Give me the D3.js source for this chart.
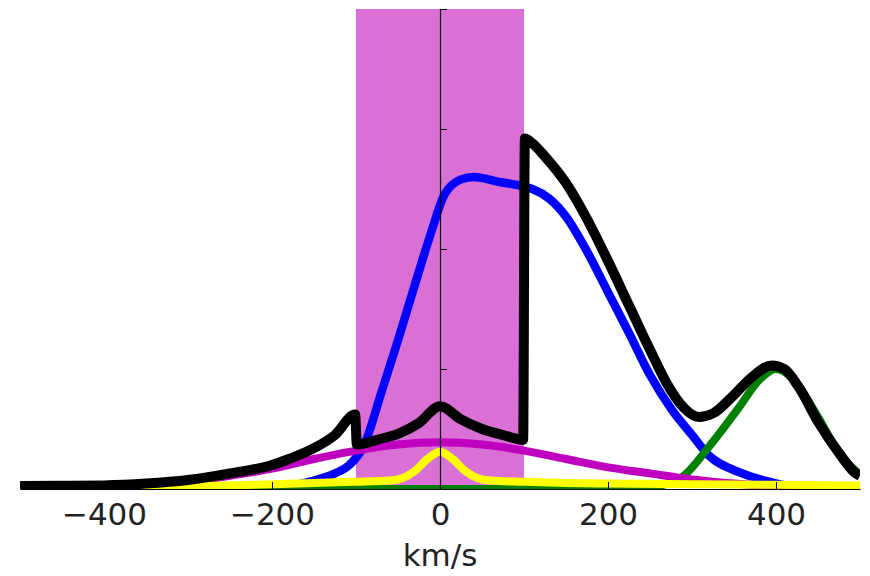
<!DOCTYPE html>
<html>
<head>
<meta charset="utf-8">
<script src="https://cdn.jsdelivr.net/npm/d3@7"></script>
<style>
  body { margin: 0; background: #fff; }
  text { font-family: "DejaVu Sans", sans-serif; }
</style>
</head>
<body>
<div class="container"></div>
<script>
// chart size and plot box
const width = 870;
const height = 576;
const margin = { top: 9, bottom: 87, left: 20, right: 10 };

// velocity window shaded in the plot
const windowRange = [-100, 100];
const xTicks = [-400, -200, 0, 200, 400];
const yTicks = [0, 1, 2, 3, 4];

// total profile (black)
const blackV = [-500, -450, -400, -350, -300, -250, -200, -180, -150, -125, -101,
  -99, -75, -50, -25, 0, 25, 50, 75, 99,
  101, 110, 125, 150, 175, 200, 225, 250, 270, 290, 308, 325, 348, 371, 395, 410, 427, 451, 475, 495, 500];
const blackY = [0.025, 0.027, 0.03, 0.045, 0.075, 0.13, 0.2, 0.25, 0.34, 0.45, 0.62,
  0.37, 0.41, 0.46, 0.55, 0.69, 0.58, 0.5, 0.45, 0.41,
  2.92, 2.88, 2.77, 2.55, 2.25, 1.9, 1.53, 1.16, 0.88, 0.68, 0.6, 0.63, 0.77, 0.93, 1.03, 1.0, 0.85, 0.55, 0.3, 0.13, 0.11];

// broad component (blue)
const blueV = [-500, -300, -250, -200, -175, -150, -125, -108, -90, -70, -50, -30, -10, 5, 25, 40, 70, 100,
  110, 130, 150, 175, 200, 225, 250, 276, 300, 320, 356, 388, 415, 451, 500];
const blueY = [0, 0, 0.002, 0.01, 0.03, 0.07, 0.13, 0.2, 0.37, 0.8, 1.24, 1.7, 2.15, 2.45, 2.58, 2.6, 2.56, 2.52,
  2.5, 2.42, 2.27, 1.98, 1.64, 1.3, 0.95, 0.66, 0.45, 0.28, 0.14, 0.067, 0.025, 0.008, 0.002];

// red-shifted component (green)
const greenV = [-500, 200, 250, 288, 320, 356, 380, 400, 420, 450, 475, 500];
const greenY = [0, 0, 0.015, 0.1, 0.35, 0.68, 0.91, 1.0, 0.92, 0.6, 0.3, 0.12];

// wide component (magenta)
const magentaV = [-500, -450, -400, -350, -300, -250, -200, -150, -100, -50, 0, 50, 100, 150, 200, 250, 300, 350, 400, 450, 500];
const magentaY = [0.003, 0.006, 0.015, 0.03, 0.06, 0.11, 0.17, 0.25, 0.32, 0.37, 0.39, 0.37, 0.32, 0.25, 0.18, 0.13, 0.08, 0.045, 0.022, 0.01, 0.004];

// narrow component (yellow)
const yellowV = [-500, -400, -300, -200, -150, -100, -60, -45, -30, -15, 0, 15, 30, 45, 60, 100, 150, 200, 300, 400, 500];
const yellowY = [0, 0.005, 0.02, 0.04, 0.05, 0.06, 0.07, 0.09, 0.15, 0.25, 0.31, 0.25, 0.15, 0.09, 0.07, 0.06, 0.05, 0.045, 0.04, 0.035, 0.03];

const svg = d3.select(".container")
  .append("svg")
  .attr("width", width)
  .attr("height", height);

const xScale = d3.scaleLinear()
  .domain([-500, 500])
  .range([margin.left, width - margin.right]);

const yScale = d3.scaleLinear()
  .domain([0, 4])
  .range([height - margin.bottom, margin.top]);

// lines are clipped to the plot box
svg.append("clipPath")
  .attr("id", "plot-clip")
  .append("rect")
  .attr("x", xScale(-500))
  .attr("y", yScale(4))
  .attr("width", xScale(500) - xScale(-500))
  .attr("height", yScale(0) - yScale(4));

// shaded window
svg.append("rect")
  .attr("x", xScale(windowRange[0]))
  .attr("y", yScale(4))
  .attr("width", xScale(windowRange[1]) - xScale(windowRange[0]))
  .attr("height", yScale(0) - yScale(4))
  .attr("fill", "#da70d6");

const line = d3.line()
  .x(d => xScale(d[0]))
  .y(d => yScale(d[1]))
  .curve(d3.curveMonotoneX);

// draw order matches the picture: blue, green, magenta, yellow, black on top
const series = [
  { v: blueV, y: blueY, color: "#0000ff", w: 8.5 },
  { v: greenV, y: greenY, color: "#008000", w: 8 },
  { v: magentaV, y: magentaY, color: "#bf00bf", w: 8 },
  { v: yellowV, y: yellowY, color: "#ffff00", w: 8 },
  { v: blackV, y: blackY, color: "#000000", w: 10 }
];

const lines = svg.append("g").attr("clip-path", "url(#plot-clip)");
series.forEach(s => {
  lines.append("path")
    .datum(d3.zip(s.v, s.y))
    .attr("fill", "none")
    .attr("stroke", s.color)
    .attr("stroke-width", s.w)
    .attr("stroke-linejoin", "round")
    .attr("d", line);
});

// bottom axis, ticks point inward
const xAxis = svg.append("g")
  .attr("transform", `translate(0, ${yScale(0)})`)
  .call(d3.axisBottom(xScale)
    .tickValues(xTicks)
    .tickFormat(d => d < 0 ? "\u2212" + Math.abs(d) : d)
    .tickSizeInner(-7)
    .tickSizeOuter(0)
    .tickPadding(14));
xAxis.select(".domain").attr("stroke", "#000").attr("stroke-width", 1.2);
xAxis.selectAll("text")
  .attr("font-size", "31px")
  .attr("font-family", "DejaVu Sans")
  .attr("fill", "#222");

// left spine sits at v = 0
const yAxis = svg.append("g")
  .attr("transform", `translate(${xScale(0)}, 0)`)
  .call(d3.axisRight(yScale)
    .tickValues(yTicks)
    .tickFormat("")
    .tickSizeInner(7)
    .tickSizeOuter(0));
yAxis.select(".domain").attr("stroke", "#000").attr("stroke-width", 1.2);

// axis title
svg.append("text")
  .attr("x", xScale(0))
  .attr("y", 566)
  .attr("text-anchor", "middle")
  .attr("font-size", "31px")
  .attr("fill", "#222")
  .text("km/s");
</script>
</body>
</html>
